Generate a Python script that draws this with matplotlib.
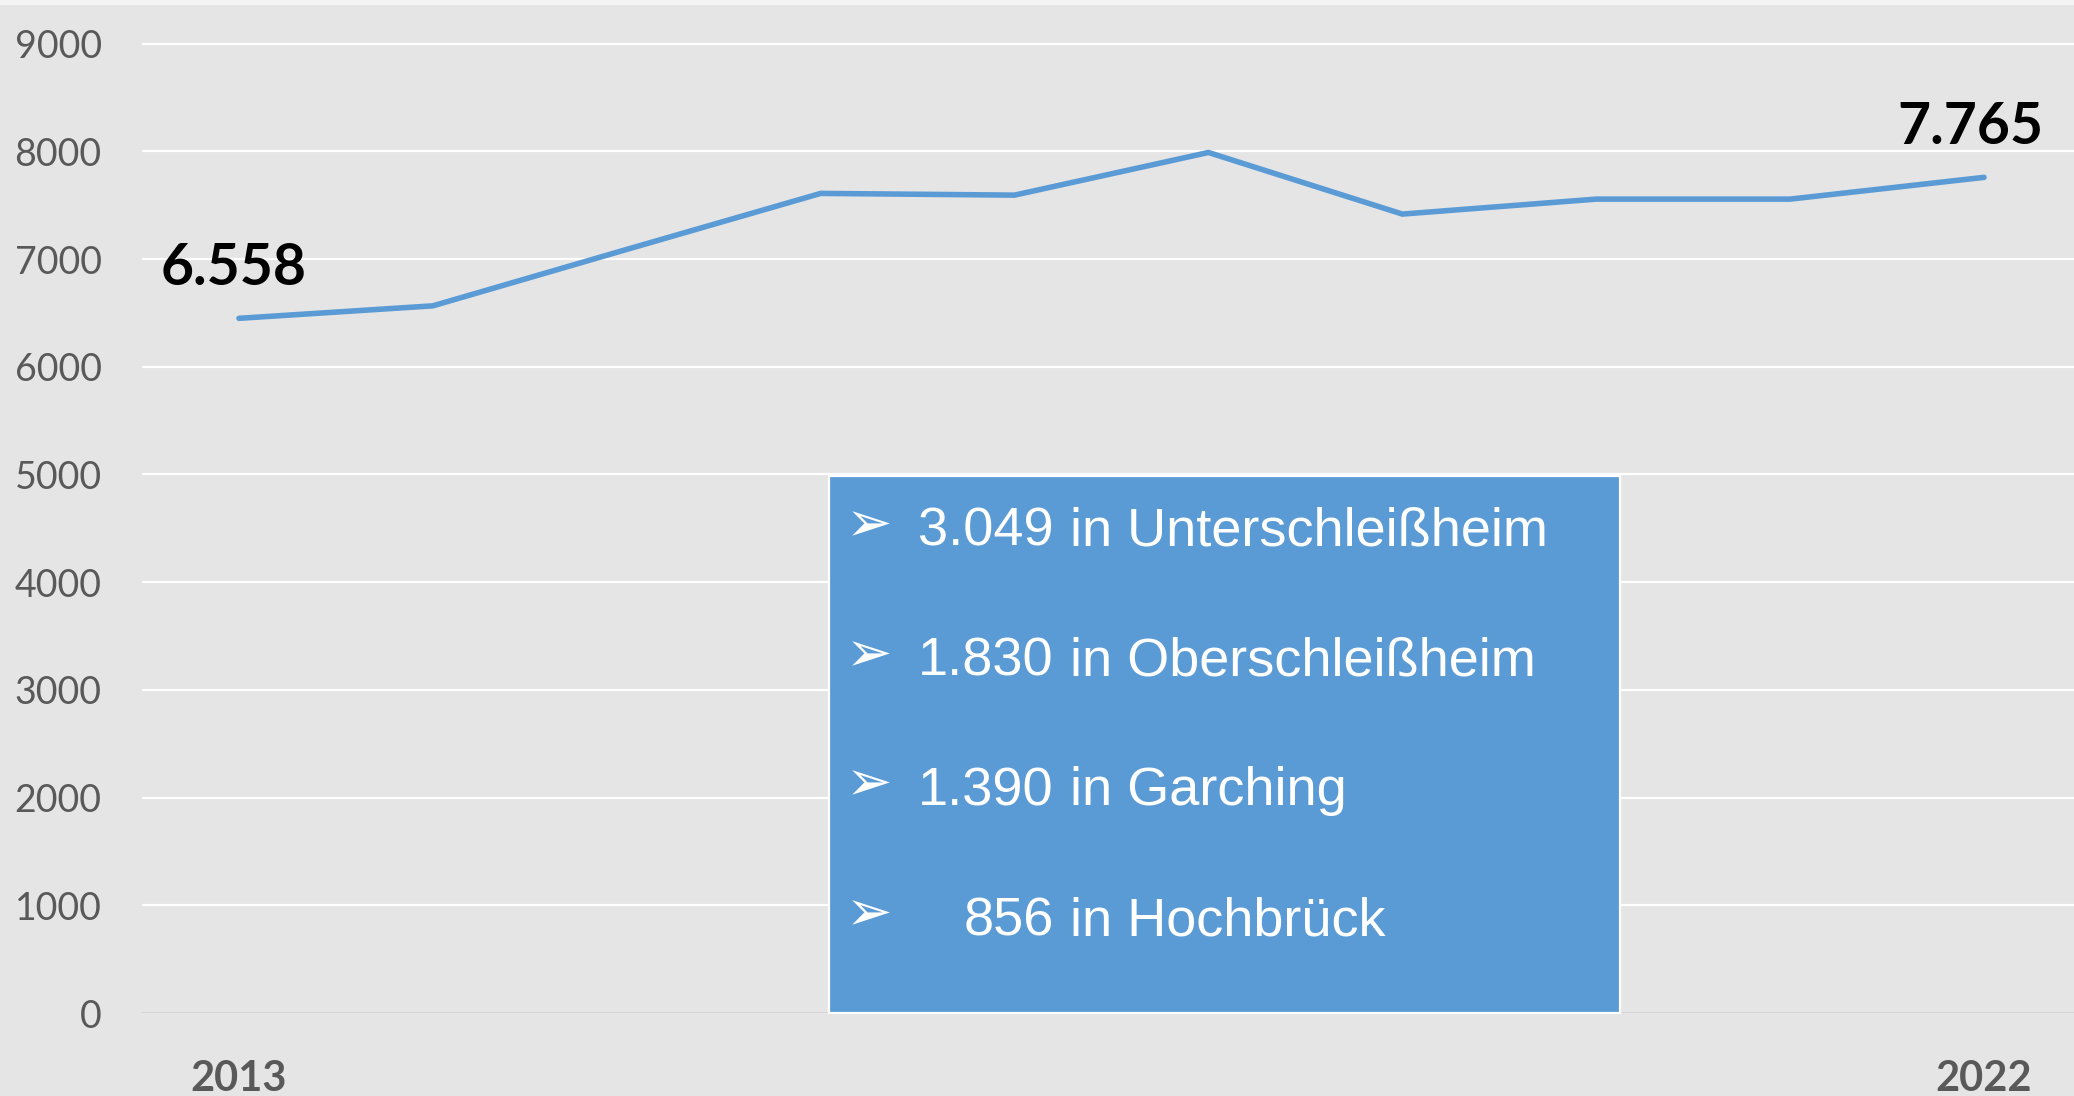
import matplotlib.pyplot as plt
from matplotlib.patches import Rectangle

# data
years = [2013, 2014, 2015, 2016, 2017, 2018, 2019, 2020, 2021, 2022]
values = [6450, 6566, 7090, 7610, 7594, 7990, 7418, 7557, 7557, 7759]
label_first = "6.558"
label_last = "7.765"
y_ticks = [0, 1000, 2000, 3000, 4000, 5000, 6000, 7000, 8000, 9000]
x_ticks = [2013, 2022]
box_counts = ["3.049", "1.830", "1.390", "856"]
box_places = ["Unterschleißheim", "Oberschleißheim", "Garching", "Hochbrück"]

W, H = 2074, 1096
bg = '#e5e5e5'
blue = '#5b9bd5'
gray = '#595959'

fig = plt.figure(figsize=(W / 100, H / 100), dpi=100, facecolor=bg)
fig.patches.append(Rectangle((0, 1 - 4 / H), 1, 4 / H, transform=fig.transFigure,
                             color='#f4f4f4', zorder=0))

# axes: x from 142px, y 0 at 1013px, 1000 per 107.7px
left = 142 / W
bottom = (H - 1013) / H
px_per_unit = 107.7 / 1000
ytop = 9050
height = ytop * px_per_unit / H
width = 10 * 193.9 / W
ax = fig.add_axes([left, bottom, width, height])
ax.set_facecolor(bg)
for s in ax.spines.values():
    s.set_visible(False)

ax.set_xlim(2012.5, 2022.5)
ax.set_ylim(0, ytop)
ax.set_yticks(y_ticks)
ax.set_xticks(x_ticks)
ax.grid(axis='y', color='white', linewidth=1.6)
ax.set_axisbelow(True)
ax.axhline(0, color='#d6d6d6', linewidth=1.6, zorder=1)
ax.tick_params(length=0)
ax.tick_params(axis='y', pad=29, labelsize=27, labelcolor=gray)
ax.tick_params(axis='x', pad=34, labelsize=30, labelcolor=gray)
for t in ax.get_yticklabels():
    t.set_family('Lato')
for t in ax.get_xticklabels():
    t.set_family('Lato')
    t.set_weight('bold')

ax.plot(years, values, color=blue, linewidth=4.0, solid_capstyle='round',
        solid_joinstyle='miter', zorder=3)

ax.annotate(label_first, (years[0], values[0]), xytext=(-4, 36), textcoords='offset points',
            ha='center', va='center', fontsize=41, fontweight='bold', family='Lato', color='black')
ax.annotate(label_last, (years[-1], values[-1]), xytext=(-10, 36), textcoords='offset points',
            ha='center', va='center', fontsize=41, fontweight='bold', family='Lato', color='black')

# text box
bx0, bx1, by0, by1 = 829, 1620, 476, 1013
fig.patches.append(Rectangle((bx0 / W, 1 - by1 / H), (bx1 - bx0) / W, (by1 - by0) / H,
                             transform=fig.transFigure, facecolor=blue, edgecolor='white',
                             linewidth=1.6, zorder=5))
row_base = [546, 676, 805, 935]
for yy, cnt, place in zip(row_base, box_counts, box_places):
    fy = 1 - yy / H
    fig.text(846 / W, 1 - (yy - 20) / H, "\u27a2", fontsize=40, color='white', ha='left',
             va='center', family=['DejaVu Sans'], zorder=6)
    fig.text(1054 / W, fy, cnt, fontsize=39, color='white', ha='right', va='baseline',
             family='Liberation Sans', zorder=6)
    fig.text(1070 / W, fy, "in " + place, fontsize=39, color='white', ha='left', va='baseline',
             family='Liberation Sans', zorder=6)

fig.savefig('out.png', dpi=100, facecolor=bg)
